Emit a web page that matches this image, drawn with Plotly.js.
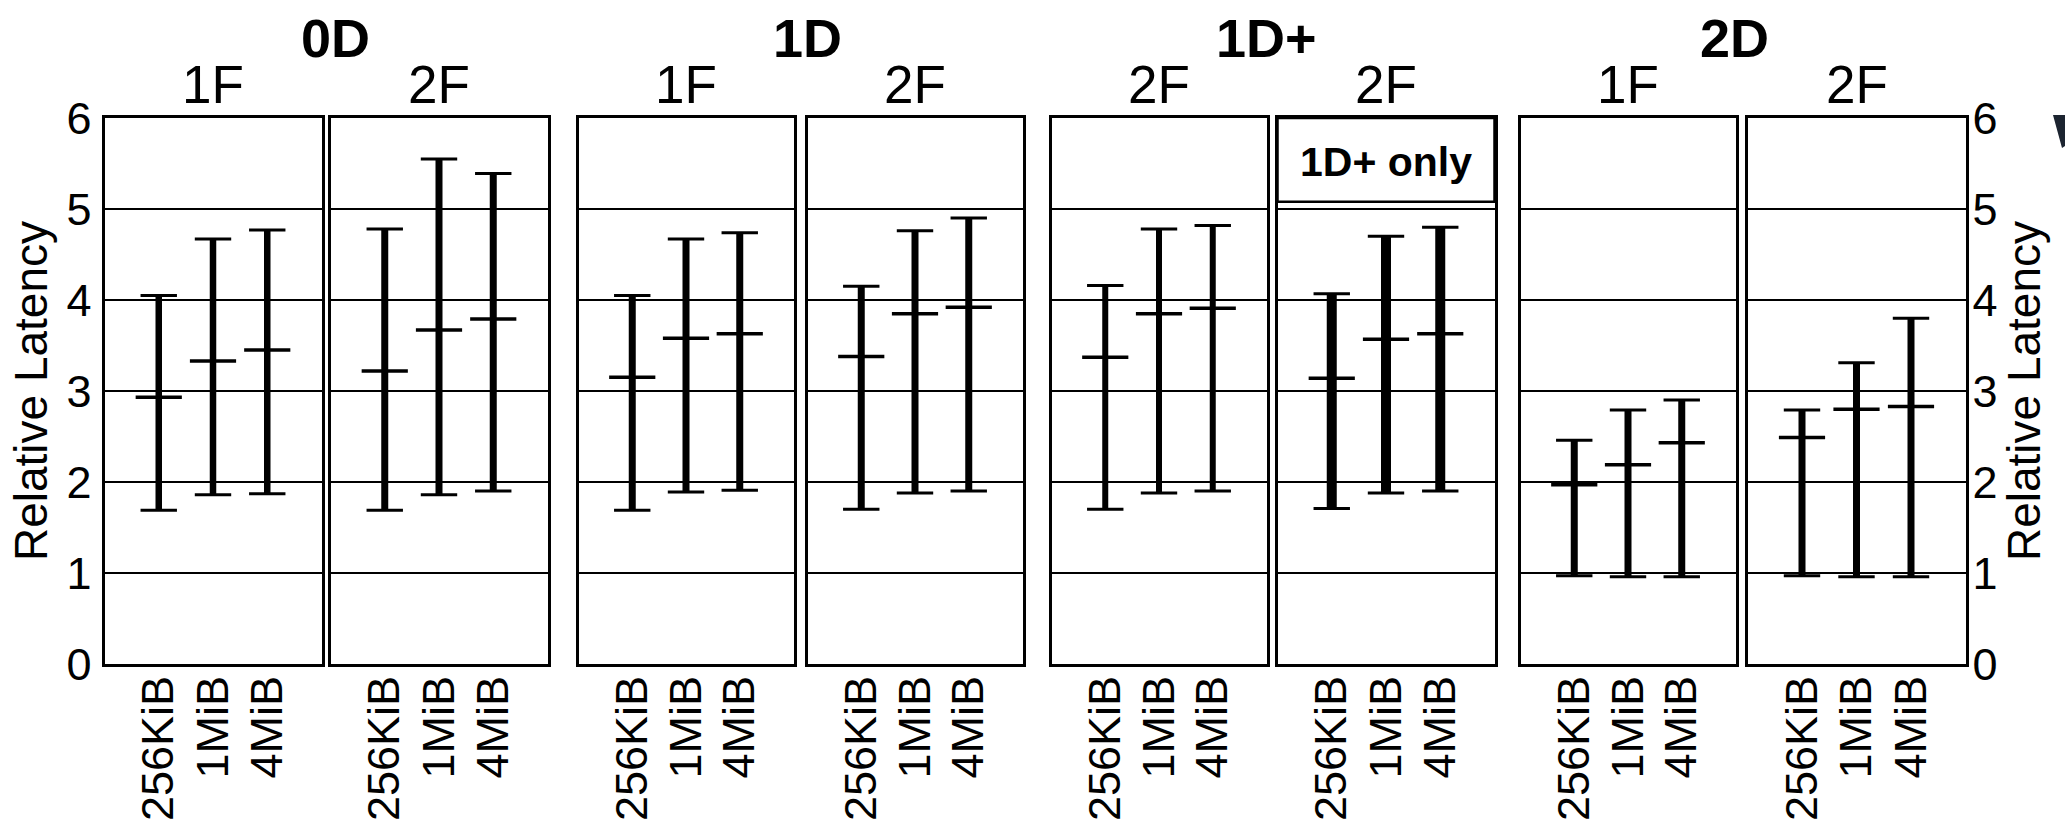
<!DOCTYPE html>
<html><head><meta charset="utf-8">
<script src="https://cdn.plot.ly/plotly-3.0.1.min.js"></script>
<style>html,body{margin:0;padding:0;background:#fff}#chart{width:2065px;height:826px}</style>
</head><body><div id="chart"></div>
<script>
// ---- data ----
const sizes = ['256KiB', '1MiB', '4MiB'];
const groupNames = ['0D', '1D', '1D+', '2D'];
const panelSubs = ['1F', '2F', '1F', '2F', '2F', '2F', '1F', '2F'];
const latMax = [
  [4.05, 4.67, 4.77],
  [4.78, 5.55, 5.39],
  [4.05, 4.67, 4.74],
  [4.15, 4.76, 4.90],
  [4.16, 4.78, 4.82],
  [4.07, 4.70, 4.80],
  [2.46, 2.79, 2.90],
  [2.79, 3.31, 3.80]
];
const latMean = [
  [2.93, 3.33, 3.45],
  [3.22, 3.67, 3.79],
  [3.15, 3.58, 3.63],
  [3.38, 3.85, 3.92],
  [3.37, 3.85, 3.91],
  [3.14, 3.57, 3.63],
  [1.97, 2.19, 2.43],
  [2.49, 2.80, 2.83]
];
const latMin = [
  [1.69, 1.86, 1.87],
  [1.69, 1.86, 1.90],
  [1.69, 1.89, 1.91],
  [1.70, 1.88, 1.90],
  [1.70, 1.88, 1.90],
  [1.71, 1.88, 1.90],
  [0.97, 0.96, 0.96],
  [0.97, 0.96, 0.96]
];
const noteText = '1D+ only';
const yTitle = 'Relative Latency';

// ---- layout / style ----
const W = 2065, H = 826;
const M = {l: 103, r: 98, t: 118, b: 162};
const plotW = W - M.l - M.r, plotH = H - M.t - M.b;
const panelPx = [[103,323],[329,549],[577,795],[806,1024],[1050,1268],[1276,1496],[1519,1737],[1746,1967]];
const whiskerW = [6.5, 7, 7, 7, 6, 10, 7, 7];
const groupTitlePx = [335, 807, 1266, 1734];
const FONT = 'Liberation Sans, Arial, Helvetica, sans-serif';
const NARROW = 'Liberation Sans Narrow, Arial Narrow, Liberation Sans, sans-serif';
const px2x = p => (p - M.l) / plotW;
const py2y = p => (H - M.b - p) / plotH;

const traces = [];
const layout = {
  width: W, height: H,
  margin: M,
  paper_bgcolor: '#fff', plot_bgcolor: '#fff',
  showlegend: false,
  font: {family: FONT, color: '#000', size: 45},
  annotations: [], shapes: []
};

for (let i = 0; i < 8; i++) {
  const s = i === 0 ? '' : String(i + 1);
  const xa = 'x' + s, ya = 'y' + s;
  // whisker (min..max) via error bars around the mean
  traces.push({
    type: 'scatter', mode: 'markers', xaxis: xa, yaxis: ya,
    x: sizes, y: latMean[i],
    marker: {size: 1, color: 'rgba(0,0,0,0)'},
    error_y: {
      type: 'data', symmetric: false,
      array: latMax[i].map((v, k) => v - latMean[i][k]),
      arrayminus: latMin[i].map((v, k) => latMean[i][k] - v),
      thickness: whiskerW[i], width: 0, color: '#000'
    },
    hoverinfo: 'skip', cliponaxis: false
  });
  // caps at min and max
  traces.push({
    type: 'scatter', mode: 'markers', xaxis: xa, yaxis: ya,
    x: sizes.concat(sizes), y: latMin[i].concat(latMax[i]),
    marker: {symbol: 'line-ew', size: 26, line: {width: 3, color: '#000'}},
    cliponaxis: false
  });
  // mean tick
  traces.push({
    type: 'scatter', mode: 'markers', xaxis: xa, yaxis: ya,
    x: sizes, y: latMean[i],
    marker: {symbol: 'line-ew', size: 33, line: {width: 3.5, color: '#000'}},
    cliponaxis: false
  });

  layout['xaxis' + s] = {
    domain: [px2x(panelPx[i][0] + 1.5), px2x(panelPx[i][1] - 1.5)],
    anchor: ya, type: 'category', categoryorder: 'array', categoryarray: sizes,
    tickmode: 'array', tickvals: sizes, ticktext: sizes,
    range: [-1, 3], showgrid: false, zeroline: false,
    showline: true, mirror: true, linewidth: 3, linecolor: '#000',
    ticks: '', tickangle: -90, tickfont: {size: 45, family: FONT, color: '#000'},
    ticklabelstandoff: -9,
    fixedrange: true
  };
  const showY = (i === 0 || i === 7);
  layout['yaxis' + s] = {
    domain: [0, 1], anchor: xa, range: [0, 6], tick0: 0, dtick: 1,
    showgrid: true, gridcolor: '#000', gridwidth: 1.5, zeroline: false,
    showline: true, mirror: true, linewidth: 3, linecolor: '#000',
    ticks: '', showticklabels: showY, side: i === 7 ? 'right' : 'left',
    tickfont: {size: 45, family: FONT, color: '#000'},
    ticklabelstandoff: i === 7 ? -5 : 1,
    fixedrange: true
  };
  if (showY) {
    layout['yaxis' + s].title = {text: yTitle, font: {size: 46, family: FONT, color: '#000'},
                                 standoff: i === 7 ? 3 : 5};
  }
  // sub-panel label
  layout.annotations.push({
    xref: 'paper', yref: 'paper',
    x: px2x((panelPx[i][0] + panelPx[i][1]) / 2), y: py2y(84),
    xanchor: 'center', yanchor: 'middle', showarrow: false,
    text: panelSubs[i], font: {size: 53, family: NARROW, color: '#000'}
  });
}

groupNames.forEach((g, j) => {
  layout.annotations.push({
    xref: 'paper', yref: 'paper',
    x: px2x(groupTitlePx[j]), y: py2y(37.5),
    xanchor: 'center', yanchor: 'middle', showarrow: false,
    text: g, font: {size: 54, family: FONT, color: '#000', weight: 'bold'}
  });
});

// note box in panel 6
layout.shapes.push({
  type: 'rect', xref: 'x6 domain', yref: 'y6', x0: 0, x1: 1, y0: 5.08, y1: 6,
  line: {color: '#000', width: 2.5}, fillcolor: '#fff', layer: 'above'
});
layout.annotations.push({
  xref: 'x6 domain', yref: 'y6', x: 0.5, y: 5.52,
  xanchor: 'center', yanchor: 'middle', showarrow: false,
  text: noteText, font: {size: 41, family: FONT, color: '#000', weight: 'bold'}
});

// cropped fragment at the right edge of the original figure (decoration)
const frag = [[2053,115],[2065,115],[2065,146],[2062,148]];
layout.shapes.push({
  type: 'path', xref: 'paper', yref: 'paper',
  path: 'M' + frag.map(p => px2x(p[0]) + ',' + py2y(p[1])).join('L') + 'Z',
  fillcolor: '#1c2430', line: {width: 0}, layer: 'above'
});

Plotly.newPlot('chart', traces, layout, {staticPlot: true, displayModeBar: false});
</script>
</body></html>
